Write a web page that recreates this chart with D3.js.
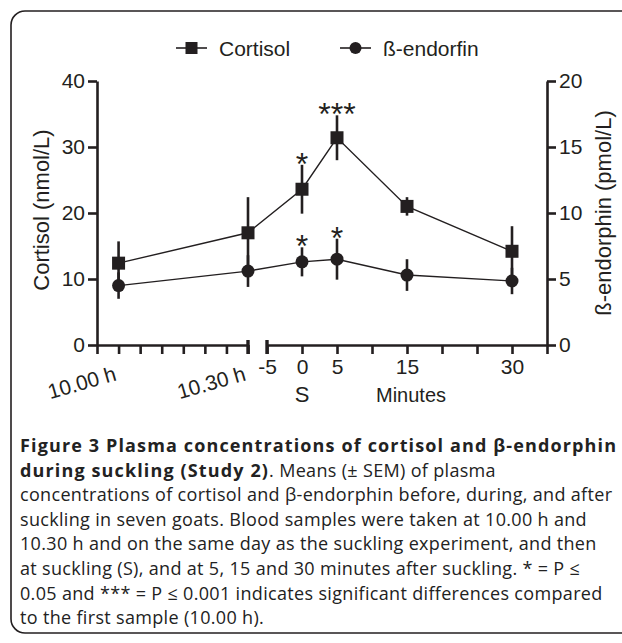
<!DOCTYPE html>
<html><head><meta charset="utf-8">
<script src="https://cdn.jsdelivr.net/npm/d3@7"></script>
<style>
html,body{margin:0;padding:0;background:#fff;}
svg{display:block;}
</style></head>
<body>
<svg id="c" width="622" height="643"></svg>
<script>
// ---- data ----
const segments = ["clock","clock","min","min","min","min"];
const times = [0, 30, 0, 5, 15, 30];
const cortisol = [12.4, 17.0, 23.6, 31.4, 21.0, 14.2];
const cortisolSEM = [3.3, 5.4, 3.7, 3.4, 1.4, 3.8];
const endorphin = [4.5, 5.6, 6.3, 6.5, 5.3, 4.85];
const endorphinSEM = [1.0, 1.2, 1.1, 1.55, 1.2, 1.0];
const clockTicks = [-5, 0, 5, 10, 15, 20, 25, 30];
const clockLabels = [[0, "10.00 h"], [30, "10.30 h"]];
const minuteTicks = [-5, 0, 5, 10, 15, 20, 25, 30, 35];
const minuteLabels = [[-5, "-5"], [0, "0"], [5, "5"], [15, "15"], [30, "30"]];
const cortisolTicks = [0, 10, 20, 30, 40];
const endorphinTicks = [0, 5, 10, 15, 20];
const stars = [["cortisol", 2, "*"], ["cortisol", 3, "***"], ["endorphin", 2, "*"], ["endorphin", 3, "*"]];
const legendItems = ["Cortisol", "ß-endorfin"];
const captionLines = [
  [["b","Figure 3 Plasma concentrations of cortisol and β-endorphin"]],
  [["b","during suckling (Study 2)"],["n",". Means (± SEM) of plasma"]],
  [["n","concentrations of cortisol and β-endorphin before, during, and after"]],
  [["n","suckling in seven goats. Blood samples were taken at 10.00 h and"]],
  [["n","10.30 h and on the same day as the suckling experiment, and then"]],
  [["n","at suckling (S), and at 5, 15 and 30 minutes after suckling. * = P ≤"]],
  [["n","0.05 and *** = P ≤ 0.001 indicates significant differences compared"]],
  [["n","to the first sample (10.00 h)."]]
];

// ---- drawing ----
const ink = "#231f20";
const svg = d3.select("#c");
const FONT = "'Liberation Sans', Arial, sans-serif";

// frame
svg.append("rect").attr("x", 11).attr("y", 11).attr("width", 640).attr("height", 622)
  .attr("rx", 14).attr("fill", "none").attr("stroke", ink).attr("stroke-width", 1.6);

const xL = d3.scaleLinear().domain([-5, 30]).range([97, 248]);
const xR = d3.scaleLinear().domain([-5, 35]).range([267, 547]);
const yL = d3.scaleLinear().domain([0, 40]).range([345, 81]);
const yR = d3.scaleLinear().domain([0, 20]).range([345, 81]);
const px = i => segments[i] === "clock" ? xL(times[i]) : xR(times[i]);

function styleAxis(g){
  g.selectAll("path,line").attr("stroke", ink).attr("stroke-width", 2.6);
  g.selectAll("text").attr("fill", ink).style("font-size", "21px").style("font-family", FONT);
}

// y axes
const gyl = svg.append("g").attr("transform", `translate(${xL(-5)},0)`)
  .call(d3.axisLeft(yL).tickValues(cortisolTicks).tickSize(9).tickSizeOuter(0).tickPadding(3));
styleAxis(gyl);
const gyr = svg.append("g").attr("transform", `translate(${xR(35)},0)`)
  .call(d3.axisRight(yR).tickValues(endorphinTicks).tickSize(9).tickSizeOuter(0).tickPadding(3));
styleAxis(gyr);

// x axes
const gxl = svg.append("g").attr("transform", `translate(0,${yL(0)})`)
  .call(d3.axisBottom(xL).tickValues(clockTicks).tickSize(9).tickSizeOuter(0).tickFormat(""));
styleAxis(gxl);
const gxr = svg.append("g").attr("transform", `translate(0,${yL(0)})`)
  .call(d3.axisBottom(xR).tickValues(minuteTicks).tickSize(9).tickSizeOuter(0)
    .tickFormat(d => { const f = minuteLabels.find(m => m[0] === d); return f ? f[1] : ""; }).tickPadding(5));
styleAxis(gxr);
gxr.selectAll("text").attr("dy", "0.71em");

// break marks
[xL(30), xR(-5)].forEach(x => {
  svg.append("line").attr("x1", x).attr("x2", x).attr("y1", yL(0) - 5).attr("y2", yL(0) + 9)
    .attr("stroke", ink).attr("stroke-width", 3.4);
});

// rotated clock labels
clockLabels.forEach(([t, s]) => {
  svg.append("text").attr("transform", `translate(${xL(t) - 1},${yL(0) + 35}) rotate(-16)`)
    .attr("text-anchor", "end").attr("fill", ink)
    .style("font-family", FONT).style("font-size", "21px").text(s);
});
// S and Minutes
svg.append("text").attr("x", xR(0)).attr("y", 402).attr("text-anchor", "middle")
  .attr("fill", ink).style("font-family", FONT).style("font-size", "22px").text("S");
svg.append("text").attr("x", xR(15) + 4).attr("y", 402).attr("text-anchor", "middle")
  .attr("fill", ink).style("font-family", FONT).style("font-size", "20px").text("Minutes");

// axis titles
svg.append("text").attr("transform", `translate(49,${(yL(0) + yL(40)) / 2 - 3}) rotate(-90)`)
  .attr("text-anchor", "middle").attr("fill", ink)
  .style("font-family", FONT).style("font-size", "22px").text("Cortisol (nmol/L)");
svg.append("text").attr("transform", `translate(611,${(yR(0) + yR(20)) / 2 }) rotate(-90)`)
  .attr("text-anchor", "middle").attr("fill", ink)
  .style("font-family", FONT).style("font-size", "22px").text("ß-endorphin (pmol/L)");

// series
const idx = d3.range(times.length);
const lineC = d3.line().x(i => px(i)).y(i => yL(cortisol[i]));
const lineE = d3.line().x(i => px(i)).y(i => yR(endorphin[i]));
svg.append("path").attr("d", lineC(idx)).attr("fill", "none").attr("stroke", ink).attr("stroke-width", 1.4);
svg.append("path").attr("d", lineE(idx)).attr("fill", "none").attr("stroke", ink).attr("stroke-width", 1.4);

// error bars
svg.append("g").selectAll("line").data(idx).join("line")
  .attr("x1", px).attr("x2", px)
  .attr("y1", i => yL(cortisol[i] - cortisolSEM[i])).attr("y2", i => yL(cortisol[i] + cortisolSEM[i]))
  .attr("stroke", ink).attr("stroke-width", 2.6);
svg.append("g").selectAll("line").data(idx).join("line")
  .attr("x1", px).attr("x2", px)
  .attr("y1", i => yR(endorphin[i] - endorphinSEM[i])).attr("y2", i => yR(endorphin[i] + endorphinSEM[i]))
  .attr("stroke", ink).attr("stroke-width", 2.6);

// markers
const sq = 13;
svg.append("g").selectAll("rect").data(idx).join("rect")
  .attr("x", i => px(i) - sq / 2).attr("y", i => yL(cortisol[i]) - sq / 2)
  .attr("width", sq).attr("height", sq).attr("fill", ink);
svg.append("g").selectAll("circle").data(idx).join("circle")
  .attr("cx", px).attr("cy", i => yR(endorphin[i])).attr("r", 6.5).attr("fill", ink);

// significance stars
stars.forEach(([s, i, lab]) => {
  const top = s === "cortisol" ? yL(cortisol[i] + cortisolSEM[i]) : yR(endorphin[i] + endorphinSEM[i]);
  svg.append("text").attr("x", px(i)).attr("y", top + 10).attr("text-anchor", "middle")
    .attr("fill", ink).style("font-family", FONT).style("font-size", "32px").text(lab);
});

// legend
const lg = svg.append("g").attr("transform", "translate(0,48)");
const lx = [176, 340];
legendItems.forEach((name, k) => {
  lg.append("line").attr("x1", lx[k]).attr("x2", lx[k] + 31).attr("y1", 0).attr("y2", 0)
    .attr("stroke", ink).attr("stroke-width", 1.6);
  if (k === 0) lg.append("rect").attr("x", lx[k] + 15.5 - 6).attr("y", -6).attr("width", 12).attr("height", 12).attr("fill", ink);
  else lg.append("circle").attr("cx", lx[k] + 15.5).attr("cy", 0).attr("r", 6).attr("fill", ink);
  lg.append("text").attr("x", lx[k] + 43).attr("y", 7.5).attr("fill", ink)
    .style("font-family", FONT).style("font-size", "21px").text(name);
});

// caption (letter-spacing fitted so the full lines reach the right margin)
const CAPFONT = "'Open Sans', sans-serif";
const cap = svg.append("g");
const capTexts = captionLines.map((parts, k) => {
  const t = cap.append("text").attr("x", 20).attr("y", 452 + k * 24.6)
    .style("font-family", CAPFONT).style("font-size", "18px").attr("fill", "#222");
  parts.forEach(([w, s]) => {
    t.append("tspan").attr("data-w", w).style("font-weight", w === "b" ? "bold" : "normal").text(s);
  });
  return t;
});
function fitSpacing(t, target) {
  const n = t.text().length;
  const w = t.node().getComputedTextLength();
  return (target - w) / (n - 1);
}
const lsBold = fitSpacing(capTexts[0], 596);
const lsNorm = fitSpacing(capTexts[2], 592);
cap.selectAll("tspan").style("letter-spacing", function(){ return (this.getAttribute("data-w") === "b" ? lsBold : lsNorm) + "px"; });
</script>
</body></html>
